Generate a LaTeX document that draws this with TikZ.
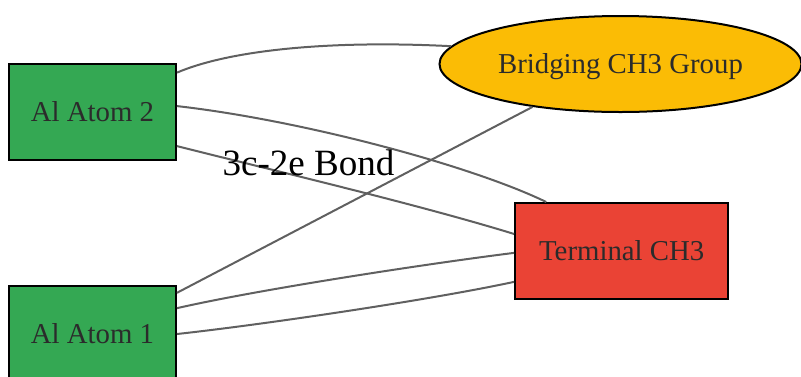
\documentclass[tikz,border=0pt]{standalone}
\usepackage{fontspec}
\setmainfont{Liberation Serif}
\usetikzlibrary{shapes.geometric}
\definecolor{gGreen}{HTML}{34A853}
\definecolor{gYellow}{HTML}{FBBC05}
\definecolor{gRed}{HTML}{EA4335}
\definecolor{edgeGray}{HTML}{606060}
\definecolor{txtGray}{HTML}{2B2B2B}
\tikzset{
  boxnode/.style={draw=black, line width=1.5pt, rectangle, inner sep=0pt,
    minimum height=72pt, text=txtGray, text height=14.3pt, text depth=0pt,
    font=\fontsize{21.6pt}{24pt}\selectfont},
  ellnode/.style={draw=black, line width=1.5pt, ellipse, inner sep=0pt,
    minimum width=271.5pt, minimum height=72pt, fill=gYellow, text=txtGray,
    text height=14.3pt, text depth=0pt,
    font=\fontsize{21.6pt}{24pt}\selectfont},
  bond/.style={draw=edgeGray, line width=1.5pt},
  lbl/.style={text=black, font=\fontsize{27.8pt}{30pt}\selectfont, inner sep=0pt}
}
\begin{document}
\begin{tikzpicture}[x=0.75pt,y=-0.75pt]
\useasboundingbox (0,0) rectangle (801,376);
\node[boxnode, fill=gGreen, minimum width=125.25pt] (al2) at (92.5,112) {Al Atom 2};
\node[boxnode, fill=gGreen, minimum width=125.25pt] (al1) at (92.5,334) {Al Atom 1};
\node[ellnode] (br) at (620.5,64) {Bridging CH3 Group};
\node[boxnode, fill=gRed, minimum width=160pt] (term) at (621.7,251) {Terminal CH3};

\draw[bond] (al2.25) .. controls (230,50) and (330,40) .. (br.174);
\draw[bond] (al2.4) .. controls (300,120) and (470,165) .. (term.147.4);
\draw[bond] (al2.-22.7) .. controls (280,172) and (420,205) .. (term.171.5);
\draw[bond] (al1.26.7) -- (br.206.7);
\draw[bond] (al1.17.9) .. controls (256,290) and (425,264) .. (term.181);
\draw[bond] (al1.0) .. controls (260,325) and (430,300) .. (term.196.7);

\node[lbl, anchor=base] (bl) at (308.5,175) {3c-2e Bond};
\end{tikzpicture}
\end{document}
